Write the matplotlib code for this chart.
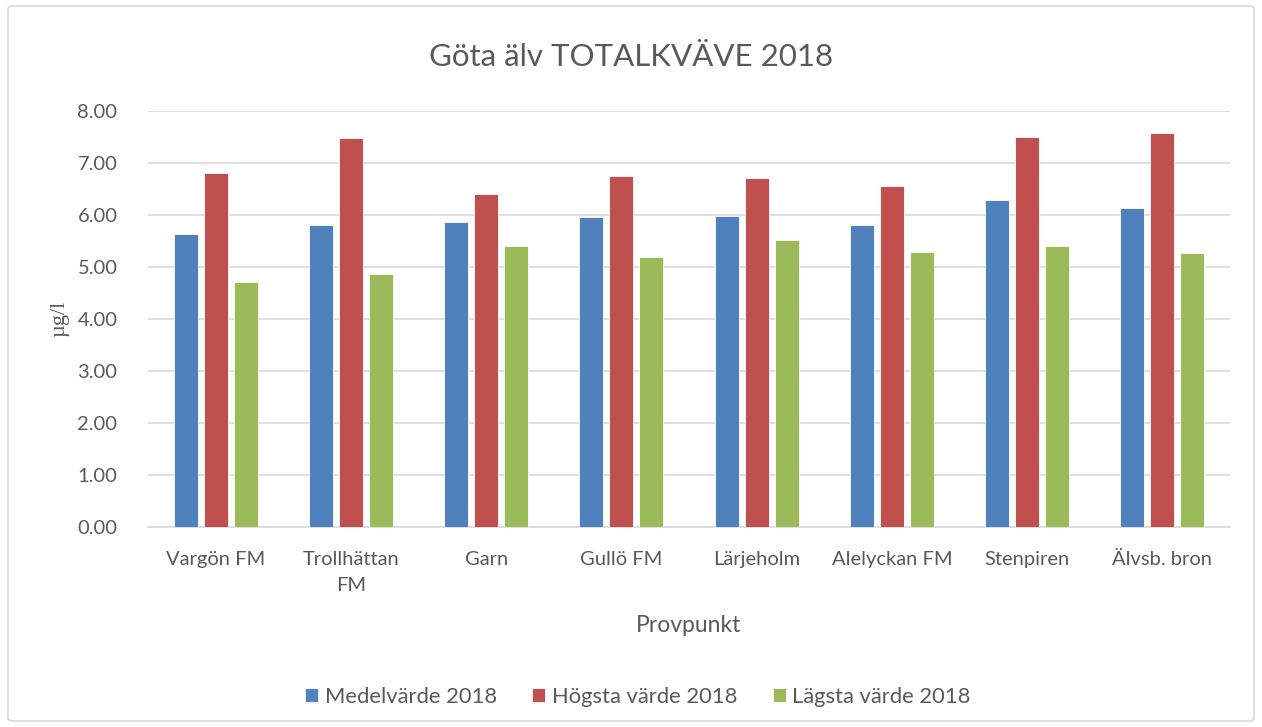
import numpy as np
import matplotlib
matplotlib.use("Agg")
import matplotlib.pyplot as plt
from matplotlib.patches import FancyBboxPatch

plt.rcParams['font.family'] = ['Lato', 'DejaVu Sans']

provpunkt = ['Vargön FM', 'Trollhättan\nFM', 'Garn', 'Gullö FM', 'Lärjeholm',
             'Alelyckan FM', 'Stenpiren', 'Älvsb. bron']
medel = [5.63, 5.81, 5.87, 5.96, 5.99, 5.81, 6.29, 6.13]
hogsta = [6.81, 7.48, 6.40, 6.75, 6.71, 6.56, 7.50, 7.57]
lagsta = [4.71, 4.87, 5.40, 5.19, 5.51, 5.29, 5.40, 5.26]

series = [('Medelvärde 2018', medel, '#4F81BD'),
          ('Högsta värde 2018', hogsta, '#C0504D'),
          ('Lägsta värde 2018', lagsta, '#9BBB59')]

textcol = '#595959'
fig = plt.figure(figsize=(12.62, 7.27), dpi=100)
ax = fig.add_axes([148 / 1262, 1 - 527 / 727, (1230 - 148) / 1262, (527 - 111) / 727])

# outer chart border
fig.patches.append(FancyBboxPatch((8 / 1262, 6 / 727), 1246 / 1262, 715 / 727,
                                  boxstyle='round,pad=0,rounding_size=0.004',
                                  transform=fig.transFigure, fill=False,
                                  edgecolor='#D9D9D9', linewidth=1.2))

x = np.arange(len(provpunkt))
step = 0.222
w = 0.178
for i, (name, vals, col) in enumerate(series):
    ax.bar(x + (i - 1) * step, vals, w, color=col, label=name,
           edgecolor='white', linewidth=0.6, zorder=3)

ax.set_xlim(-0.5, len(provpunkt) - 0.5)
ax.set_ylim(0, 8)
ax.set_yticks(np.arange(0, 9, 1))
ax.set_yticklabels(['%.2f' % v for v in np.arange(0, 9, 1)])
ax.yaxis.grid(True, color='#D9D9D9', linewidth=1.2, zorder=0)
for s in ['top', 'right', 'left']:
    ax.spines[s].set_visible(False)
ax.spines['bottom'].set_color('#D9D9D9')
ax.spines['bottom'].set_linewidth(1.2)
ax.tick_params(axis='both', length=0, labelsize=14.5, colors=textcol)
ax.tick_params(axis='x', pad=17)
ax.tick_params(axis='y', pad=22)
ax.set_xticks(x)
ax.set_xticklabels(provpunkt, linespacing=1.65)

fig.text(0.5, 1 - 57 / 727, 'Göta älv TOTALKVÄVE 2018', fontsize=22.5,
         color=textcol, ha='center', va='center')
ax.set_xlabel('Provpunkt', fontsize=16.5, color=textcol, labelpad=15)
ax.set_ylabel('µg/l', fontsize=16, color=textcol, family=['Liberation Serif'], labelpad=6)

leg = fig.legend(loc='center', bbox_to_anchor=(0.5 + 7 / 1262, 1 - 697 / 727), ncol=3,
                 frameon=False, fontsize=15.8, handlelength=0.6, handleheight=0.6,
                 handletextpad=0.3, columnspacing=1.6)
for t in leg.get_texts():
    t.set_color(textcol)

fig.savefig('out.png', dpi=100)
